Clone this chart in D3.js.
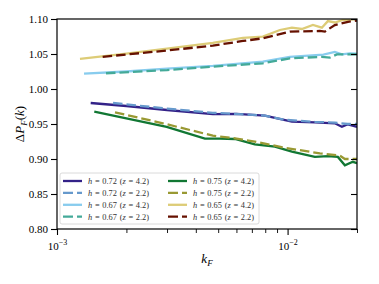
<!DOCTYPE html>
<html>
<head>
<meta charset="utf-8">
<script src="https://cdn.jsdelivr.net/npm/d3@7"></script>
<style>
  body { margin: 0; background: #fff; }
  svg { display: block; }
</style>
</head>
<body>
<script>
// wavenumbers and ratios, one pair per curve
var k72z42 = [1.40e-3, 2.0e-3, 3.0e-3, 4.74e-3, 6.0e-3, 7.97e-3, 1.044e-2, 1.313e-2, 1.603e-2, 1.72e-2, 1.826e-2, 2.0e-2];
var v72z42 = [0.980, 0.9757, 0.970, 0.964, 0.9645, 0.962, 0.9533, 0.9524, 0.951, 0.946, 0.9496, 0.946];

var k72z22 = [1.75e-3, 3.0e-3, 4.74e-3, 7.97e-3, 9.73e-3, 1.313e-2, 1.603e-2, 1.826e-2, 2.0e-2];
var v72z22 = [0.980, 0.972, 0.966, 0.962, 0.956, 0.953, 0.952, 0.950, 0.950];

var k67z42 = [1.31e-3, 2.0e-3, 3.0e-3, 4.74e-3, 7.81e-3, 1.023e-2, 1.43e-2, 1.603e-2, 1.72e-2, 1.862e-2, 2.0e-2];
var v67z42 = [1.022, 1.025, 1.029, 1.033, 1.039, 1.046, 1.049, 1.053, 1.0495, 1.051, 1.0505];

var k67z22 = [1.631e-3, 3.0e-3, 4.74e-3, 7.81e-3, 1.023e-2, 1.408e-2, 1.525e-2, 1.636e-2, 2.0e-2];
var v67z22 = [1.0225, 1.027, 1.032, 1.0367, 1.0438, 1.046, 1.0448, 1.0495, 1.0495];

var k75z42 = [1.451e-3, 2.99e-3, 4.38e-3, 5.09e-3, 5.91e-3, 7.21e-3, 8.81e-3, 1.044e-2, 1.313e-2, 1.495e-2, 1.652e-2, 1.772e-2, 1.919e-2, 2.0e-2];
var v75z42 = [0.9676, 0.946, 0.929, 0.929, 0.9286, 0.921, 0.9176, 0.9105, 0.903, 0.904, 0.903, 0.891, 0.896, 0.894];

var k75z22 = [1.784e-3, 2.88e-3, 4.74e-3, 5.91e-3, 7.21e-3, 9.73e-3, 1.38e-2, 1.685e-2, 1.772e-2, 2.0e-2];
var v75z22 = [0.9667, 0.951, 0.9333, 0.9295, 0.9248, 0.916, 0.908, 0.9048, 0.900, 0.900];

var k65z42 = [1.258e-3, 2.0e-3, 3.0e-3, 4.74e-3, 6.40e-3, 7.81e-3, 9.26e-3, 1.044e-2, 1.153e-2, 1.288e-2, 1.408e-2, 1.495e-2, 1.603e-2, 1.737e-2, 2.0e-2];
var v65z42 = [1.043, 1.0506, 1.0576, 1.066, 1.073, 1.0748, 1.0843, 1.0876, 1.0857, 1.0914, 1.0876, 1.097, 1.095, 1.0986, 1.100];

var k65z22 = [1.578e-3, 3.0e-3, 4.74e-3, 6.40e-3, 7.81e-3, 1.023e-2, 1.38e-2, 1.451e-2, 1.603e-2, 1.826e-2, 2.0e-2];
var v65z22 = [1.046, 1.055, 1.062, 1.0686, 1.0724, 1.0819, 1.0829, 1.082, 1.0914, 1.096, 1.0976];

var hValues = ["0.72", "0.72", "0.67", "0.67", "0.75", "0.75", "0.65", "0.65"];
var zValues = ["4.2", "2.2", "4.2", "2.2", "4.2", "2.2", "4.2", "2.2"];
var yTicks = [0.80, 0.85, 0.90, 0.95, 1.00, 1.05, 1.10];

var series = [
  { k: k72z42, v: v72z42, color: "#332288", dashed: false },
  { k: k72z22, v: v72z22, color: "#6699CC", dashed: true },
  { k: k67z42, v: v67z42, color: "#88CCEE", dashed: false },
  { k: k67z22, v: v67z22, color: "#44AA99", dashed: true },
  { k: k75z42, v: v75z42, color: "#117733", dashed: false },
  { k: k75z22, v: v75z22, color: "#999933", dashed: true },
  { k: k65z42, v: v65z42, color: "#DDCC77", dashed: false },
  { k: k65z22, v: v65z22, color: "#661100", dashed: true }
];
series.forEach(function(s, i) { s.h = hValues[i]; s.z = zValues[i]; });

// layout
var W = 379, H = 284;
var margin = { top: 19, right: 22, bottom: 55, left: 57 },
    width = W - margin.left - margin.right,
    height = H - margin.top - margin.bottom;

var serif = "'Liberation Serif', 'DejaVu Serif', serif";

var svg = d3.select("body")
  .append("svg")
  .attr("width", W)
  .attr("height", H);

var g = svg.append("g")
  .attr("transform", "translate(" + margin.left + "," + margin.top + ")");

var x = d3.scaleLog().domain([1e-3, 2e-2]).range([0, width]);
var y = d3.scaleLinear().domain([0.80, 1.10]).range([height, 0]);

g.append("clipPath").attr("id", "clip")
  .append("rect").attr("width", width).attr("height", height);

// curves
var line = d3.line()
  .x(function(d) { return x(d[0]); })
  .y(function(d) { return y(d[1]); });

g.append("g").attr("clip-path", "url(#clip)")
  .selectAll("path")
  .data(series)
  .join("path")
  .attr("d", function(s) { return line(d3.zip(s.k, s.v)); })
  .attr("fill", "none")
  .attr("stroke", function(s) { return s.color; })
  .attr("stroke-width", 2.3)
  .attr("stroke-dasharray", function(s) { return s.dashed ? "9.5,4" : null; });

// y axis
var yAxis = g.append("g")
  .call(d3.axisLeft(y).tickValues(yTicks).tickFormat(d3.format(".2f")).tickSize(6).tickPadding(3));
yAxis.select(".domain").remove();
yAxis.selectAll("text").attr("font-family", serif).attr("font-size", 11).attr("fill", "#000");
yAxis.selectAll("line").attr("stroke-width", 1.1);

// right side inward ticks
g.append("g")
  .attr("transform", "translate(" + width + ",0)")
  .call(d3.axisLeft(y).tickValues(yTicks).tickFormat("").tickSize(6))
  .call(function(a) { a.select(".domain").remove(); })
  .selectAll("line").attr("stroke-width", 1.1);

// x axis: major and minor ticks
var minor = [];
[1e-3, 1e-2].forEach(function(dec) {
  for (var m = 2; m <= 9; m++) if (dec * m <= 2e-2) minor.push(dec * m);
});
var xMinor = g.append("g")
  .attr("transform", "translate(0," + height + ")")
  .call(d3.axisBottom(x).tickValues(minor).tickFormat("").tickSize(4));
xMinor.select(".domain").remove();
xMinor.selectAll("line").attr("stroke-width", 0.9);

var xMajor = g.append("g")
  .attr("transform", "translate(0," + height + ")")
  .call(d3.axisBottom(x).tickValues([1e-3, 1e-2]).tickFormat("").tickSize(6));
xMajor.select(".domain").remove();
xMajor.selectAll("line").attr("stroke-width", 1.1);

xMajor.selectAll(".tick").each(function(d) {
  var t = d3.select(this).append("text")
    .attr("y", 21)
    .attr("text-anchor", "middle")
    .attr("font-family", serif)
    .attr("font-size", 11)
    .attr("fill", "#000");
  t.append("tspan").text("10");
  t.append("tspan").attr("dy", -5).attr("font-size", 8).text("\u2212" + Math.round(-Math.log10(d)));
});

// frame
g.append("rect")
  .attr("width", width).attr("height", height)
  .attr("fill", "none").attr("stroke", "#000").attr("stroke-width", 1.2);

// axis labels
var xl = svg.append("text")
  .attr("x", margin.left + width / 2)
  .attr("y", 263)
  .attr("text-anchor", "middle")
  .attr("font-family", serif)
  .attr("font-size", 13);
xl.append("tspan").attr("font-style", "italic").text("k");
xl.append("tspan").attr("font-style", "italic").attr("font-size", 9).attr("dy", 3).text("F");

var yl = svg.append("text")
  .attr("transform", "translate(24," + (margin.top + height / 2) + ") rotate(-90)")
  .attr("text-anchor", "middle")
  .attr("font-family", serif)
  .attr("font-size", 13);
yl.append("tspan").text("\u0394");
yl.append("tspan").attr("font-style", "italic").text("P");
yl.append("tspan").attr("font-style", "italic").attr("font-size", 9).attr("dy", 3).text("F");
yl.append("tspan").attr("dy", -3).text("(");
yl.append("tspan").attr("font-style", "italic").text("k");
yl.append("tspan").text(")");

// legend
var legend = g.append("g").attr("transform", "translate(3,154)");
legend.append("rect")
  .attr("width", 199).attr("height", 51)
  .attr("rx", 2)
  .attr("fill", "#fff").attr("fill-opacity", 0.8)
  .attr("stroke", "#d0d0d0").attr("stroke-width", 0.8);

var item = legend.selectAll("g.item")
  .data(series)
  .join("g")
  .attr("class", "item")
  .attr("transform", function(s, i) {
    var col = Math.floor(i / 4), row = i % 4;
    return "translate(" + (3 + col * 105) + "," + (8 + row * 11.9) + ")";
  });

item.append("line")
  .attr("x1", 0).attr("x2", 19)
  .attr("stroke", function(s) { return s.color; })
  .attr("stroke-width", 2.3)
  .attr("stroke-dasharray", function(s) { return s.dashed ? "10,4" : null; });

var lt = item.append("text")
  .attr("x", 25).attr("y", 2.8)
  .attr("font-family", serif)
  .attr("font-size", 8.4)
  .attr("fill", "#333")
  .attr("word-spacing", 0.6);
lt.append("tspan").attr("font-style", "italic").text("h");
lt.append("tspan").text(function(s) { return " = " + s.h + " ("; });
lt.append("tspan").attr("font-style", "italic").text("z");
lt.append("tspan").text(function(s) { return " = " + s.z + ")"; });
</script>
</body>
</html>
